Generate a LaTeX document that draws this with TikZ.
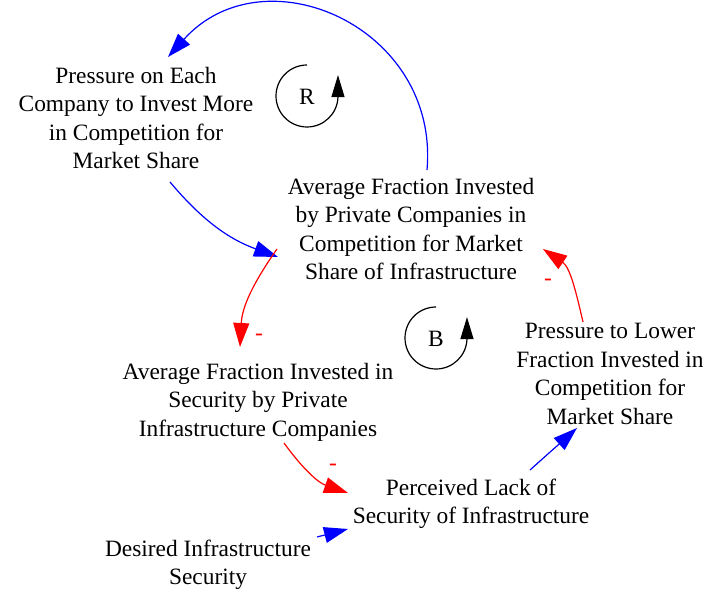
\documentclass[tikz,border=0pt]{standalone}
\usepackage{fontspec}
\setmainfont{Liberation Serif}
\usetikzlibrary{arrows.meta,calc}
\begin{document}
\begin{tikzpicture}[x=1pt,y=1pt,
  var/.style={align=center,inner sep=0pt,font=\fontsize{23.4}{28.4}\selectfont},
  link/.style={line width=1.2pt,-{Triangle[length=24pt,width=16pt]}},
  poslink/.style={link,draw=blue},
  neglink/.style={link,draw=red},
  sign/.style={text=red,inner sep=0pt,font=\fontsize{23.4}{28.2}\selectfont},
  loopsym/.style={line width=1.2pt,-{Triangle[length=22pt,width=13pt]}}]
\path[use as bounding box] (0,0) rectangle (706,592);

% variables
\node[var] (pe) at (136,474) {Pressure on Each\\Company to Invest More\\in Competition for\\Market Share};
\node[var] (avgtop) at (411,363) {Average Fraction Invested\\by Private Companies in\\Competition for Market\\Share of Infrastructure};
\node[var] (avgsec) at (258,190) {Average Fraction Invested in\\Security by Private\\Infrastructure Companies};
\node[var] (lower) at (610,218) {Pressure to Lower\\Fraction Invested in\\Competition for\\Market Share};
\node[var] (lack) at (471,88) {Perceived Lack of\\Security of Infrastructure};
\node[var] (desired) at (208,27) {Desired Infrastructure\\Security};

% loop markers
\node[var] (R) at (307,495) {R};
\draw[loopsym] ($(R)+(0,32)$) arc[start angle=90,end angle=358,radius=31] -- ++(0,22);
\node[var] (B) at (436,253) {B};
\draw[loopsym] ($(B)+(0,32)$) arc[start angle=90,end angle=358,radius=31] -- ++(0,22);

% causal links
\draw[poslink] ($(avgtop)+(16,59)$) to[out=85,in=48,looseness=1.3] ($(pe)+(32,61)$);
\draw[poslink] ($(pe)+(34,-64)$) to[out=-50,in=160] ($(avgtop)+(-133,-28)$);
\draw[neglink] ($(avgtop)+(-134,-20)$) to[out=-125,in=87] ($(avgsec)+(-18,55)$);
\draw[neglink] ($(avgsec)+(26,-41)$) to[out=-54,in=161] ($(lack)+(-123,11)$);
\draw[poslink] ($(desired)+(109,28)$) -- ($(lack)+(-123,-25)$);
\draw[poslink] ($(lack)+(59,34)$) to[out=42,in=222] ($(lower)+(-33,-54)$);
\draw[neglink] ($(lower)+(-27,52)$) to[out=103,in=-34] ($(avgtop)+(132,-20)$);

% polarities
\node[sign] (s1) at (259,255) {-};
\node[sign] (s2) at (333,125) {-};
\node[sign] (s3) at (548,310) {-};
\end{tikzpicture}
\end{document}
